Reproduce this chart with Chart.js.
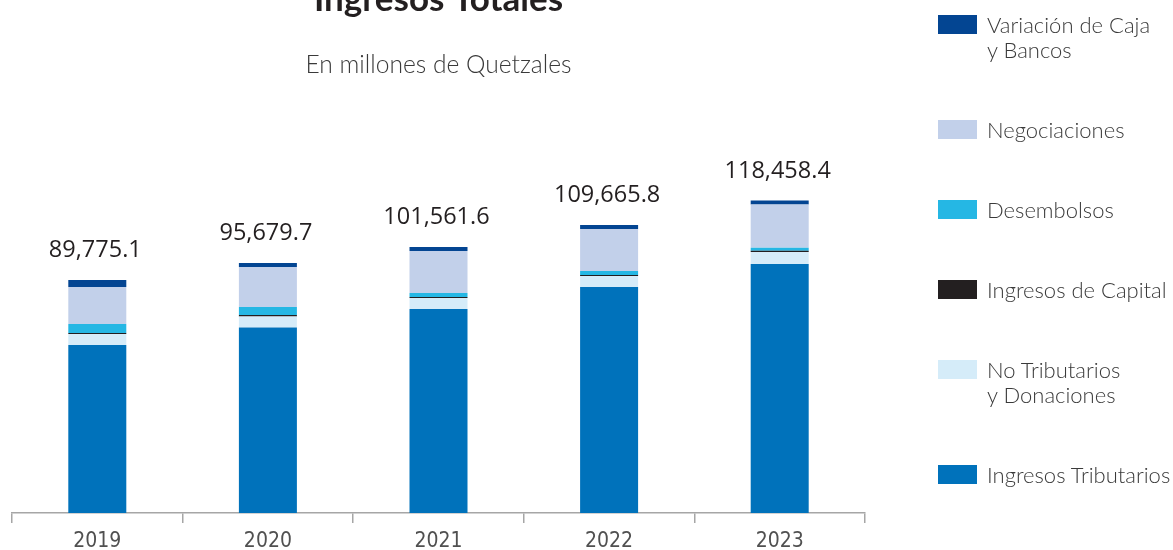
<!DOCTYPE html>
<html lang="es">
<head>
<meta charset="utf-8">
<title>Ingresos Totales</title>
<script src="https://cdn.jsdelivr.net/npm/chart.js@4.4.1/dist/chart.umd.min.js"></script>
<style>
    body { margin: 0; background: #fff; }
    .wrap { position: relative; width: 1173px; height: 550px; overflow: hidden; }
    #legend { position: absolute; left: 938px; top: 12px; margin: 0; padding: 0; list-style: none;
              display: flex; flex-direction: column; gap: 55px; }
    #legend li { display: flex; align-items: flex-start; font-family: Lato, "Open Sans", sans-serif;
                 font-weight: 300; font-size: 22px; line-height: 25px; color: #3a3a3a; white-space: pre; }
    #legend span.box { display: inline-block; width: 39px; height: 19px; margin: 3px 10px 0 0; flex: none; }
</style>
</head>
<body>
<div class="wrap">
    <canvas id="ingresosChart" width="1173" height="550"></canvas>
    <ul id="legend"></ul>
</div>
<script>
'use strict';

const years = ['2019', '2020', '2021', '2022', '2023'];
const totals = [89775.1, 95679.7, 101561.6, 109665.8, 118458.4];

// millones de quetzales
const tributarios = [63840, 70490, 77520, 85880, 94620];
const noTributarios = [4180, 4180, 4180, 4180, 4560];
const capital = [380, 570, 380, 380, 500];
const desembolsos = [3420, 3040, 1520, 1520, 1140];
const negociaciones = [14060, 15200, 15960, 15960, 16340];
const cajaBancos = [2660, 1520, 1520, 1520, 1520];

const series = [
    { label: 'Ingresos Tributarios', data: tributarios, color: '#0072bb' },
    { label: 'No Tributarios\ny Donaciones', data: noTributarios, color: '#d5ecf9' },
    { label: 'Ingresos de Capital', data: capital, color: '#231f20' },
    { label: 'Desembolsos', data: desembolsos, color: '#25b7e4' },
    { label: 'Negociaciones', data: negociaciones, color: '#c2d0ea' },
    { label: 'Variación de Caja\ny Bancos', data: cajaBancos, color: '#034592' }
];

const totalLabels = {
    id: 'totalLabels',
    afterDatasetsDraw(chart) {
        const ctx = chart.ctx;
        const meta = chart.getDatasetMeta(chart.data.datasets.length - 1);
        ctx.save();
        ctx.font = '23.5px "Open Sans", sans-serif';
        ctx.fillStyle = '#231f20';
        ctx.textAlign = 'center';
        ctx.textBaseline = 'alphabetic';
        meta.data.forEach((bar, i) => {
            const text = totals[i].toLocaleString('en-US', { minimumFractionDigits: 1, maximumFractionDigits: 1 });
            ctx.fillText(text, bar.x - 2, bar.y - 23);
        });
        ctx.restore();
    }
};

const htmlLegend = {
    id: 'htmlLegend',
    afterUpdate(chart) {
        const list = document.getElementById('legend');
        list.innerHTML = '';
        chart.data.datasets.slice().reverse().forEach(ds => {
            const item = document.createElement('li');
            const box = document.createElement('span');
            box.className = 'box';
            box.style.background = ds.backgroundColor;
            item.appendChild(box);
            const text = document.createElement('span');
            text.textContent = ds.label;
            item.appendChild(text);
            list.appendChild(item);
        });
    }
};

new Chart('ingresosChart', {
    type: 'bar',
    data: {
        labels: years,
        datasets: series.map(s => ({
            label: s.label,
            data: s.data,
            backgroundColor: s.color,
            borderWidth: 0,
            barPercentage: 0.34,
            categoryPercentage: 1
        }))
    },
    options: {
        responsive: false,
        animation: false,
        layout: { padding: { left: 12, right: 308, top: 0, bottom: 0 } },
        scales: {
            x: {
                stacked: true,
                afterFit: scale => { scale.height = 37; },
                grid: { display: true, drawOnChartArea: false, drawTicks: true, tickLength: 10, color: '#a6a6a6', lineWidth: 1.5 },
                border: { display: true, color: '#a6a6a6', width: 1.5 },
                ticks: {
                    color: '#505050',
                    padding: 8,
                    font: { family: '"Liberation Sans Narrow", "DejaVu Sans Condensed", sans-serif', size: 21, lineHeight: 1 }
                }
            },
            y: {
                stacked: true,
                display: false,
                min: 0,
                max: 154400
            }
        },
        plugins: {
            legend: { display: false },
            tooltip: { enabled: false },
            title: {
                display: true,
                text: 'Ingresos Totales',
                color: '#231f20',
                font: { family: 'Lato, sans-serif', size: 35, weight: 'bold', lineHeight: 1.2 },
                padding: { top: -21, bottom: 0 }
            },
            subtitle: {
                display: true,
                text: 'En millones de Quetzales',
                color: '#3a3a3a',
                font: { family: 'Lato, sans-serif', size: 24.6, weight: '300', lineHeight: 1.2 },
                padding: { top: 29.24, bottom: 26.84 }
            }
        }
    },
    plugins: [totalLabels, htmlLegend]
});
</script>
</body>
</html>
